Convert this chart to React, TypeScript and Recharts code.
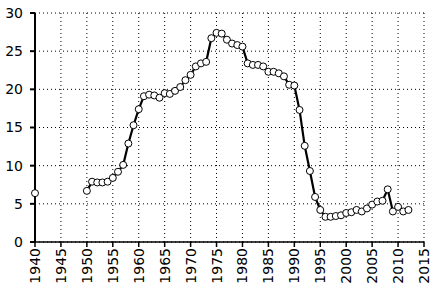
import { CartesianGrid, Line, LineChart, XAxis, YAxis } from "recharts";

const YEARS = [
  1940, 1941, 1942, 1943, 1944, 1945, 1946, 1947, 1948, 1949,
  1950, 1951, 1952, 1953, 1954, 1955, 1956, 1957, 1958, 1959,
  1960, 1961, 1962, 1963, 1964, 1965, 1966, 1967, 1968, 1969,
  1970, 1971, 1972, 1973, 1974, 1975, 1976, 1977, 1978, 1979,
  1980, 1981, 1982, 1983, 1984, 1985, 1986, 1987, 1988, 1989,
  1990, 1991, 1992, 1993, 1994, 1995, 1996, 1997, 1998, 1999,
  2000, 2001, 2002, 2003, 2004, 2005, 2006, 2007, 2008, 2009,
  2010, 2011, 2012,
];

// 1941-1949 нет данных: линия рвётся, 1940 остаётся одиночной точкой
const VALUES: (number | null)[] = [
  6.4, null, null, null, null, null, null, null, null, null,
  6.7, 7.9, 7.8, 7.8, 7.9, 8.4, 9.2, 10.1, 12.9, 15.3,
  17.4, 19.1, 19.3, 19.2, 18.9, 19.5, 19.4, 19.8, 20.3, 21.2,
  21.9, 23.0, 23.4, 23.6, 26.7, 27.4, 27.3, 26.5, 26.0, 25.8,
  25.6, 23.4, 23.2, 23.2, 23.0, 22.3, 22.3, 22.1, 21.7, 20.6,
  20.5, 17.3, 12.6, 9.3, 5.9, 4.2, 3.3, 3.3, 3.4, 3.5,
  3.8, 3.9, 4.2, 4.0, 4.4, 4.9, 5.3, 5.4, 6.9, 4.0,
  4.6, 4.0, 4.2,
];

const X_TICKS = [1940, 1945, 1950, 1955, 1960, 1965, 1970, 1975, 1980, 1985, 1990, 1995, 2000, 2005, 2010, 2015];
const Y_TICKS = [0, 5, 10, 15, 20, 25, 30];

const data = YEARS.map((year, i) => ({ year, v: VALUES[i] }));

const FONT = "'DejaVu Sans', sans-serif";

function YearTick({ x, y, payload }: { x?: number; y?: number; payload?: { value: number } }) {
  if (x === undefined || y === undefined || !payload) return null;
  return (
    <text
      x={x}
      y={y}
      transform={`rotate(-90, ${x}, ${y})`}
      textAnchor="end"
      dominantBaseline="central"
      fontFamily={FONT}
      fontSize={14}
      fill="#000"
    >
      {payload.value}
    </text>
  );
}

export default function App() {
  return (
    <div style={{ position: "absolute", left: 0, top: 0, background: "#fff" }}>
      <LineChart
        width={434}
        height={291}
        data={data}
        margin={{ top: 13, right: 10, bottom: 0, left: 0 }}
      >
        <CartesianGrid stroke="#000" strokeDasharray="1 3" strokeWidth={1} />
        <XAxis
          dataKey="year"
          type="number"
          domain={[1940, 2015]}
          ticks={X_TICKS}
          interval={0}
          height={49}
          tickSize={5}
          tickMargin={1}
          tick={<YearTick />}
          stroke="#000"
          strokeWidth={1.5}
        />
        <YAxis
          domain={[0, 30]}
          ticks={Y_TICKS}
          interval={0}
          width={35}
          tickSize={5}
          tickMargin={7}
          tick={{ fontSize: 14, fontFamily: FONT, fill: "#000" }}
          stroke="#000"
          strokeWidth={2}
        />
        <Line
          dataKey="v"
          type="linear"
          stroke="#000"
          strokeWidth={2.2}
          dot={{ r: 3.5, fill: "#fff", stroke: "#000", strokeWidth: 1 }}
          isAnimationActive={false}
        />
      </LineChart>
    </div>
  );
}
